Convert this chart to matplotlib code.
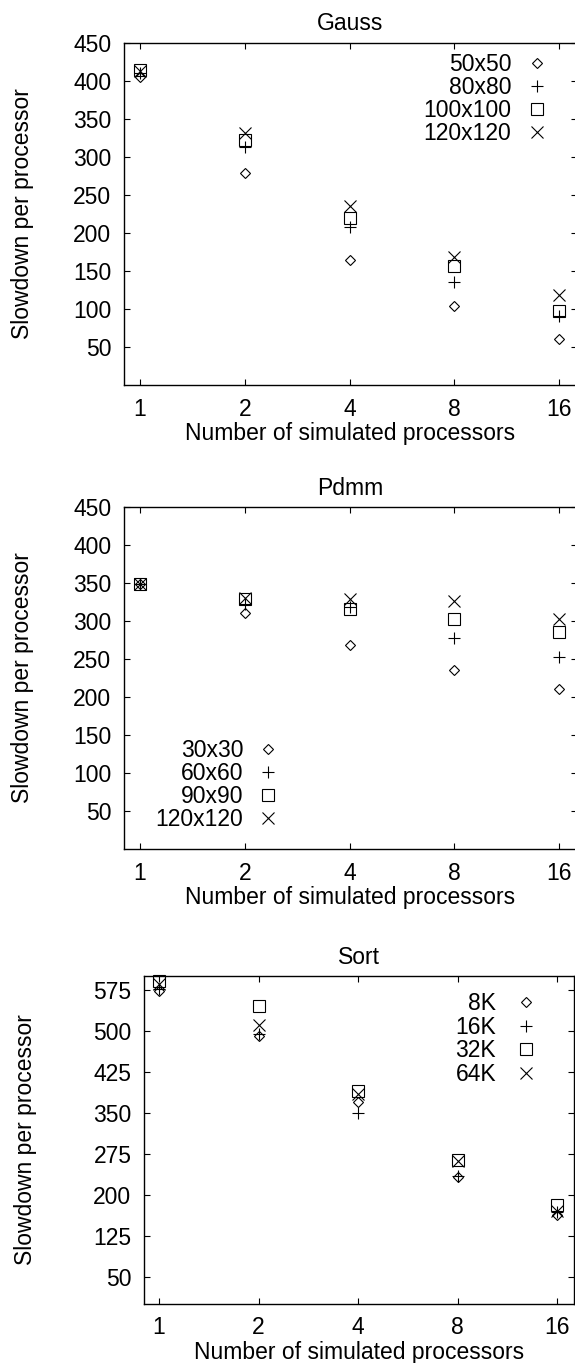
import matplotlib
matplotlib.use("Agg")
import matplotlib.pyplot as plt
from matplotlib.ticker import FixedLocator, FixedFormatter, NullLocator

FS = 16.5
plt.rcParams["font.family"] = ["Liberation Sans", "DejaVu Sans"]
plt.rcParams["font.size"] = FS

# number of simulated processors (x axis)
PROCS = [1, 2, 4, 8, 16]
PROC_LABELS = ["1", "2", "4", "8", "16"]

# Gauss
GAUSS_SIZES = ["50x50", "80x80", "100x100", "120x120"]
GAUSS_50 = [405, 279, 164, 104, 61]
GAUSS_80 = [410, 313, 208, 136, 91]
GAUSS_100 = [415, 323, 220, 156, 97]
GAUSS_120 = [413, 332, 236, 169, 119]

# Pdmm
PDMM_SIZES = ["30x30", "60x60", "90x90", "120x120"]
PDMM_30 = [349, 310, 268, 235, 210]
PDMM_60 = [349, 323, 319, 278, 252]
PDMM_90 = [349, 329, 316, 303, 286]
PDMM_120 = [349, 330, 329, 326, 303]

# Sort
SORT_SIZES = ["8K", "16K", "32K", "64K"]
SORT_8K = [572, 491, 370, 233, 162]
SORT_16K = [576, 494, 350, 234, 169]
SORT_32K = [590, 546, 390, 263, 182]
SORT_64K = [586, 511, 385, 262, 171]

GAUSS_TICKS = [50, 100, 150, 200, 250, 300, 350, 400, 450]
PDMM_TICKS = [50, 100, 150, 200, 250, 300, 350, 400, 450]
SORT_TICKS = [50, 125, 200, 275, 350, 425, 500, 575]

MARKERS = [("D", 5.6), ("+", 8.5), ("s", 8.0), ("x", 8.0)]


def draw_panel(ax, title, sizes, series, yticks, ylim, legend_anchor, labelspacing, textpad):
    for (marker, ms), label, values in zip(MARKERS, sizes, series):
        ax.plot(PROCS, values, linestyle="none", marker=marker, markersize=ms,
                markerfacecolor="none", markeredgecolor="black",
                markeredgewidth=0.8, label=label, clip_on=False)

    ax.set_xscale("log", base=2)
    ax.set_xlim(0.9, 18)
    ax.set_ylim(*ylim)
    ax.xaxis.set_major_locator(FixedLocator(PROCS))
    ax.xaxis.set_major_formatter(FixedFormatter(PROC_LABELS))
    ax.xaxis.set_minor_locator(NullLocator())
    ax.yaxis.set_major_locator(FixedLocator(yticks))
    ax.yaxis.set_minor_locator(NullLocator())

    ax.tick_params(direction="in", length=4, width=0.8, top=True, right=True,
                   pad=9, labelsize=FS)
    for spine in ax.spines.values():
        spine.set_linewidth(1.0)

    ax.set_title(title, fontsize=FS, pad=9)
    ax.set_xlabel("Number of simulated processors", fontsize=FS, labelpad=1)
    ax.set_ylabel("Slowdown per processor", fontsize=FS)

    ax.legend(loc="upper right", bbox_to_anchor=legend_anchor, frameon=False,
              markerfirst=False, numpoints=1, handlelength=1.0,
              handletextpad=textpad, labelspacing=labelspacing,
              borderpad=0, borderaxespad=0, fontsize=FS)


fig = plt.figure(figsize=(5.75, 13.63), dpi=100)
W, H = 575.0, 1363.0

ax1 = fig.add_axes([124 / W, 1 - 385 / H, 453 / W, 342 / H])
ax2 = fig.add_axes([124 / W, 1 - 849 / H, 453 / W, 342 / H])
ax3 = fig.add_axes([144 / W, 1 - 1304 / H, 430 / W, 328 / H])

draw_panel(ax1, "Gauss", GAUSS_SIZES, [GAUSS_50, GAUSS_80, GAUSS_100, GAUSS_120],
           GAUSS_TICKS, (0, 450), (0.936, 0.971), 0.0, 0.6)
draw_panel(ax2, "Pdmm", PDMM_SIZES, [PDMM_30, PDMM_60, PDMM_90, PDMM_120],
           PDMM_TICKS, (0, 450), (0.344, 0.323), 0.0, 0.6)
draw_panel(ax3, "Sort", SORT_SIZES, [SORT_8K, SORT_16K, SORT_32K, SORT_64K],
           SORT_TICKS, (0, 600), (0.916, 0.95), 0.02, 0.82)

ax1.yaxis.set_label_coords((34 - 124) / 453, 0.5)
ax2.yaxis.set_label_coords((34 - 124) / 453, 0.5)
ax3.yaxis.set_label_coords((37 - 144) / 430, 0.5)

fig.savefig("out.png", dpi=100)
